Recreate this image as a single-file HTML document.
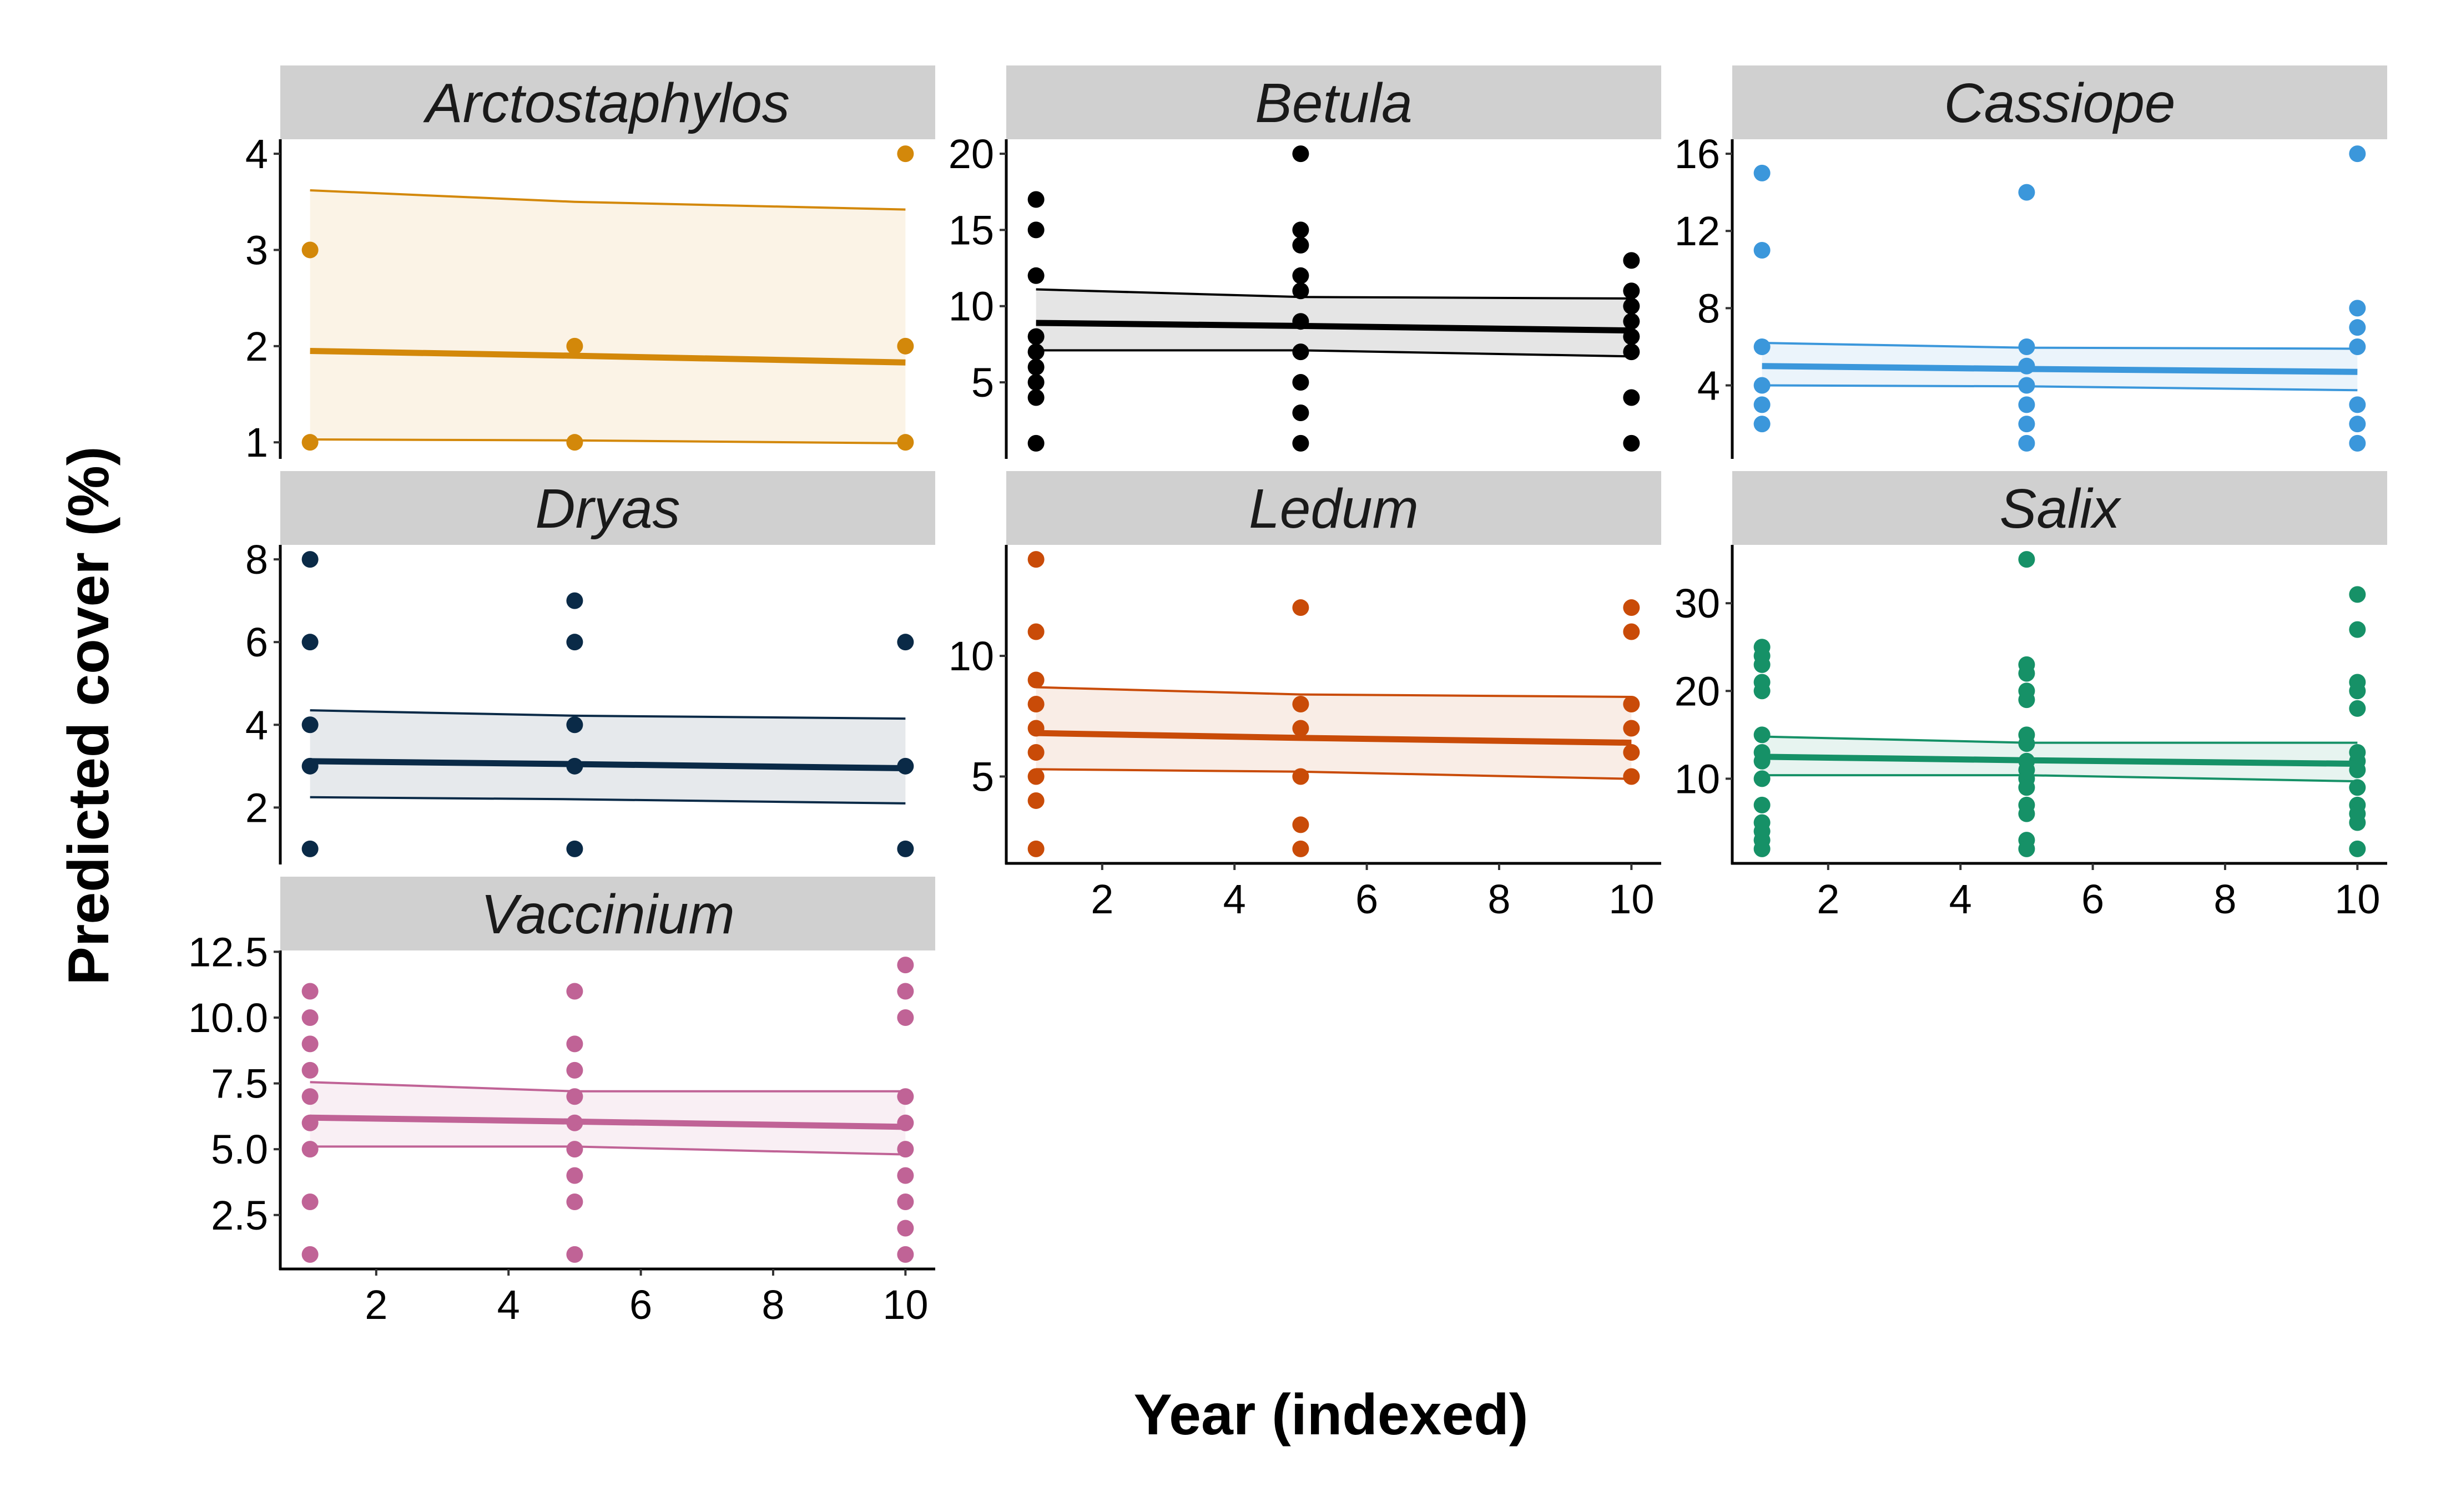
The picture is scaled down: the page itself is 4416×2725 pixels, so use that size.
<!DOCTYPE html>
<html><head><meta charset="utf-8">
<style>
html,body{margin:0;padding:0;background:#fff;}
svg{display:block;}
text{font-family:"Liberation Sans",Arial,sans-serif;}
</style></head>
<body>
<svg id="chart" width="4416" height="2725" viewBox="0 0 4416 2725" xmlns="http://www.w3.org/2000/svg">
<text x="0" y="0" transform="translate(195,1290) rotate(-90)" text-anchor="middle" font-size="104" font-weight="bold">Predicted cover (%)</text>
<text x="2398" y="2585" text-anchor="middle" font-size="104" font-weight="bold">Year (indexed)</text>
</svg>
<script>
const years = [1, 5, 10];
const xTicks = [2, 4, 6, 8, 10];
const species = ["Arctostaphylos","Betula","Cassiope","Dryas","Ledum","Salix","Vaccinium"];
const colors = ["#D3880A","#000000","#3B97DB","#0A2A47","#C94B08","#169167","#C06396"];
// observed points per year (x=1, x=5, x=10)
const ptsArcto = [[3,1],[2,1],[4,2,1]];
const ptsBetula = [[17,15,12,8,7,6,5,4,1],[20,15,14,12,11,9,7,5,3,1],[13,11,10,9,8,7,4,1]];
const ptsCassiope = [[15,11,6,4,3,2],[14,6,5,4,3,2,1],[16,8,7,6,3,2,1]];
const ptsDryas = [[8,6,4,3,1],[7,6,4,3,1],[6,3,1]];
const ptsLedum = [[14,11,9,8,7,6,5,4,2],[12,8,7,5,3,2],[12,11,8,7,6,5]];
const ptsSalix = [[25,24,23,21,20,15,13,12,10,7,5,4,3,2],[35,23,22,20,19,15,14,12,11,10,9,7,6,3,2],[31,27,21,20,18,13,12,11,9,7,6,5,2]];
const ptsVacc = [[11,10,9,8,7,6,5,3,1],[11,9,8,7,6,5,4,3,1],[12,11,10,7,6,5,4,3,2,1]];
// fitted mean, upper and lower CI at years
const fitArcto = [1.95,1.90,1.83], hiArcto = [3.62,3.50,3.42], loArcto = [1.03,1.02,0.99];
const fitBetula = [8.9,8.7,8.4], hiBetula = [11.1,10.6,10.5], loBetula = [7.1,7.1,6.7];
const fitCassiope = [5.0,4.85,4.7], hiCassiope = [6.2,5.95,5.9], loCassiope = [4.0,3.95,3.75];
const fitDryas = [3.12,3.05,2.95], hiDryas = [4.35,4.22,4.15], loDryas = [2.25,2.2,2.1];
const fitLedum = [6.8,6.6,6.4], hiLedum = [8.7,8.4,8.3], loLedum = [5.3,5.2,4.9];
const fitSalix = [12.5,12.1,11.7], hiSalix = [14.8,14.1,14.1], loSalix = [10.4,10.4,9.7];
const fitVacc = [6.2,6.05,5.85], hiVacc = [7.55,7.2,7.2], loVacc = [5.1,5.1,4.8];
const yTicksArcto = [1,2,3,4], yTicksBetula = [5,10,15,20], yTicksCassiope = [4,8,12,16];
const yTicksDryas = [2,4,6,8], yTicksLedum = [5,10], yTicksSalix = [10,20,30];
const yTicksVacc = [2.5,5.0,7.5,10.0,12.5];

const panels = [
 {pts:ptsArcto, fit:fitArcto, hi:hiArcto, lo:loArcto, ticks:yTicksArcto, dec:0},
 {pts:ptsBetula, fit:fitBetula, hi:hiBetula, lo:loBetula, ticks:yTicksBetula, dec:0},
 {pts:ptsCassiope, fit:fitCassiope, hi:hiCassiope, lo:loCassiope, ticks:yTicksCassiope, dec:0},
 {pts:ptsDryas, fit:fitDryas, hi:hiDryas, lo:loDryas, ticks:yTicksDryas, dec:0},
 {pts:ptsLedum, fit:fitLedum, hi:hiLedum, lo:loLedum, ticks:yTicksLedum, dec:0},
 {pts:ptsSalix, fit:fitSalix, hi:hiSalix, lo:loSalix, ticks:yTicksSalix, dec:0},
 {pts:ptsVacc, fit:fitVacc, hi:hiVacc, lo:loVacc, ticks:yTicksVacc, dec:1}
];
const NS = "http://www.w3.org/2000/svg";
const svg = document.getElementById("chart");
function mk(tag, attrs, parent){ const e=document.createElementNS(NS,tag); for(const k in attrs) e.setAttribute(k,attrs[k]); (parent||svg).appendChild(e); return e; }
const colX0 = [505,1813,3121], W = 1180, rowTop = [118,849,1580], STRIP = 133, PH = 574;
const xMin = 0.55, xMax = 10.45;
panels.forEach((p,i)=>{
  const c=i%3, r=Math.floor(i/3);
  const x0=colX0[c], top=rowTop[r], py0=top+STRIP, py1=py0+PH;
  const g=mk("g",{});
  
  
  const xs=v=>x0+(v-xMin)/(xMax-xMin)*W;
  let all=[].concat(...p.pts, p.hi, p.lo);
  let mn=Math.min(...all), mx=Math.max(...all), ex=(mx-mn)*0.05;
  mn-=ex; mx+=ex;
  const ys=v=>py1-(v-mn)/(mx-mn)*PH;
  const st=mk("rect",{x:x0,y:top,width:W,height:STRIP,fill:"#D0D0D0"},g);
  
  
  const tt=mk("text",{x:x0+W/2,y:top+102,"text-anchor":"middle","font-size":100,"font-style":"italic",fill:"#1a1a1a"},g);
  tt.textContent=species[i];
  
  
  const col=colors[i];
  let d="M"+years.map((y,k)=>xs(y)+","+ys(p.hi[k])).join("L")+"L"+years.slice().reverse().map((y,k)=>xs(y)+","+ys(p.lo[2-k])).join("L")+"Z";
  const rb=mk("path",{d:d,fill:col,"fill-opacity":0.1},g);
  
  
  [p.hi,p.lo].forEach((arr,j)=>{
    const l=mk("polyline",{points:years.map((y,k)=>xs(y)+","+ys(arr[k])).join(" "),fill:"none",stroke:col,"stroke-width":4},g);
    
    
  });
  p.pts.forEach((arr,k)=>arr.forEach(v=>{
    const ci=mk("circle",{cx:xs(years[k]),cy:ys(v),r:15,fill:col},g);
    
    
  }));
  const fl=mk("polyline",{points:years.map((y,k)=>xs(y)+","+ys(p.fit[k])).join(" "),fill:"none",stroke:col,"stroke-width":11},g);
  
  
  const ya=mk("line",{x1:x0,y1:py0,x2:x0,y2:py1+2,stroke:"#000","stroke-width":5},g);
  
  
  p.ticks.forEach(t=>{
    mk("line",{x1:x0-12,y1:ys(t),x2:x0,y2:ys(t),stroke:"#333","stroke-width":4},g);
    const tl=mk("text",{x:x0-22,y:ys(t)+26,"text-anchor":"end","font-size":74},g);
    tl.textContent=t.toFixed(p.dec);
    
    
  });
  const bottom = (r===2) || (r===1 && c>0);
  if(bottom){
    const xa=mk("line",{x1:x0-2,y1:py1,x2:x0+W,y2:py1,stroke:"#000","stroke-width":5},g);
    
    
    xTicks.forEach(t=>{
      mk("line",{x1:xs(t),y1:py1,x2:xs(t),y2:py1+12,stroke:"#333","stroke-width":4},g);
      const tl=mk("text",{x:xs(t),y:py1+90,"text-anchor":"middle","font-size":74},g);
      tl.textContent=t;
      
      
    });
  }
});
</script>
</body></html>
